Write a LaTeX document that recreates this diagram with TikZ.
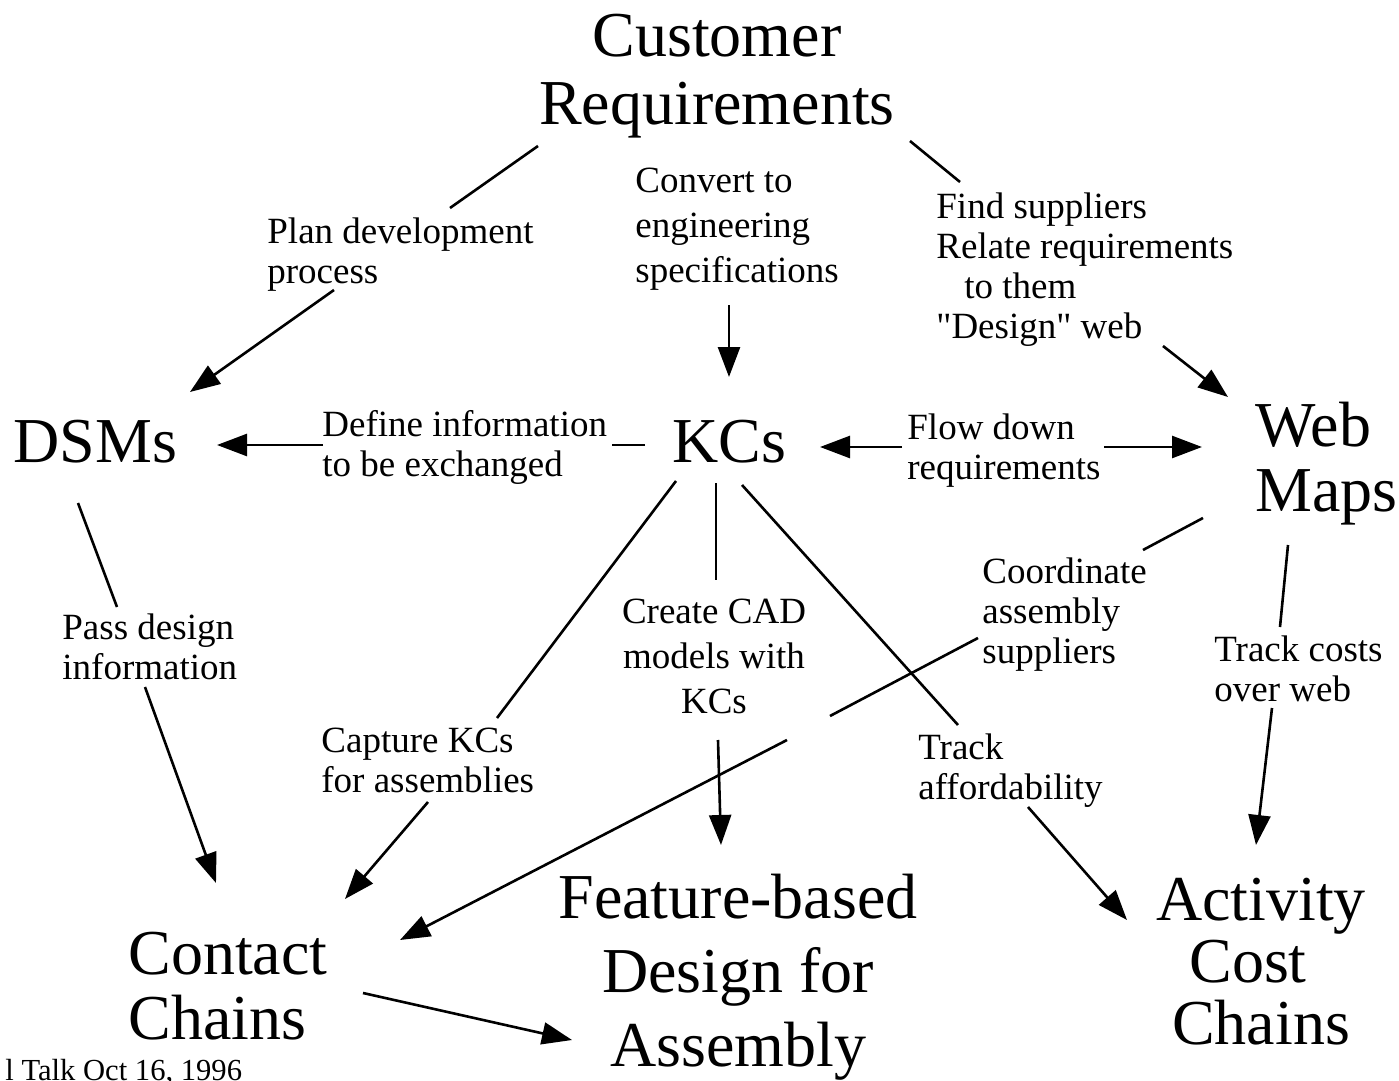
\documentclass[tikz,border=0pt]{standalone}
\usepackage{fontspec}
\setmainfont{Liberation Serif}[Ligatures=TeXOff]
\usetikzlibrary{arrows.meta}

\begin{document}
\begin{tikzpicture}[x=0.5pt,y=-0.5pt,
  big/.style={inner sep=0pt,align=left,font=\fontsize{32}{32.5}\selectfont},
  lbl/.style={inner sep=0pt,align=left,font=\fontsize{18.5}{20}\selectfont},
  conn/.style={line width=1.3pt},
  arr/.style={line width=1.3pt,-{Triangle[length=15pt,width=11pt]}}]
\useasboundingbox (0,0) rectangle (1399,1081);
% the big items
\node[big,align=center,anchor=north,font=\fontsize{32}{34}\selectfont] (cust) at (717,14) {Customer\\Requirements};
\node[big,anchor=north west] (dsms) at (13,420) {DSMs};
\node[big,anchor=north west] (kcs) at (672,420) {KCs};
\node[big,anchor=north west] (web) at (1255,402) {Web\\Maps};
\node[big,anchor=north west] (contact) at (128,932) {Contact\\Chains};
\node[big,align=center,anchor=north,font=\fontsize{32}{37}\selectfont] (feature) at (738,874) {Feature-based\\Design for\\Assembly};
\node[big,align=center,anchor=north,font=\fontsize{32}{31}\selectfont] (activity) at (1261,878) {Activity\\Cost\hspace{13pt}\mbox{}\\Chains};
% the labels
\node[lbl,anchor=north west] (plan) at (267,217) {Plan development\\process};
\node[lbl,anchor=north west,font=\fontsize{18.5}{22.5}\selectfont] (convert) at (635,168) {Convert to\\engineering\\specifications};
\node[lbl,anchor=north west] (find) at (936,192) {Find suppliers\\Relate requirements\\\hspace*{14pt}to them\\"Design" web};
\node[lbl,anchor=north west] (define) at (322,410) {Define information\\to be exchanged};
\node[lbl,anchor=north west] (flow) at (907,413) {Flow down\\requirements};
\node[lbl,anchor=north west] (pass) at (62,613) {Pass design\\information};
\node[lbl,align=center,anchor=north,font=\fontsize{18.5}{22.5}\selectfont] (create) at (714,599) {Create CAD\\models with\\KCs};
\node[lbl,anchor=north west] (coord) at (982,557) {Coordinate\\assembly\\suppliers};
\node[lbl,anchor=north west] (trackcost) at (1214,635) {Track costs\\over web};
\node[lbl,anchor=north west] (capture) at (321,728) {Capture KCs\\for assemblies};
\node[lbl,anchor=north west] (track) at (918,733) {Track\\affordability};
\node[anchor=base west,inner sep=0pt,font=\fontsize{15.3}{16}\selectfont] (talk) at (5,1080) {l Talk Oct 16, 1996};
% connector ends
\coordinate (cust-plan) at (538,146);  \coordinate (plan-in) at (450,208);
\coordinate (plan-out) at (334,290);   \coordinate (dsms-plan) at (190,392);
\coordinate (convert-out) at (729,305); \coordinate (kcs-convert) at (729,377);
\coordinate (cust-find) at (910,141);  \coordinate (find-in) at (960,182);
\coordinate (find-out) at (1163,346);  \coordinate (web-find) at (1228,397);
\coordinate (kcs-define) at (645,445); \coordinate (define-in) at (612,445);
\coordinate (define-out) at (323,445); \coordinate (dsms-define) at (217,445);
\coordinate (kcs-flow) at (820,447);   \coordinate (flow-l) at (902,447);
\coordinate (flow-r) at (1104,447);    \coordinate (web-flow) at (1202,447);
\coordinate (dsms-pass) at (78,503);   \coordinate (pass-in) at (117,607);
\coordinate (pass-out) at (145,687);   \coordinate (contact-pass) at (216,883);
\coordinate (kcs-capture) at (676,481); \coordinate (capture-in) at (497,718);
\coordinate (capture-out) at (428,802); \coordinate (contact-capture) at (345,899);
\coordinate (kcs-create) at (716,483); \coordinate (create-in) at (716,580);
\coordinate (create-out) at (718,740); \coordinate (feature-create) at (721,845);
\coordinate (kcs-track) at (742,485);  \coordinate (track-in) at (958,725);
\coordinate (track-out) at (1028,807); \coordinate (activity-track) at (1127,920);
\coordinate (web-coord) at (1203,518); \coordinate (coord-in) at (1143,550);
\coordinate (coord-out) at (978,638);  \coordinate (create-x1) at (830,716);
\coordinate (create-x2) at (787,740);  \coordinate (contact-coord) at (400,940);
\coordinate (web-cost) at (1288,545);  \coordinate (trackcost-in) at (1280,627);
\coordinate (trackcost-out) at (1272,708); \coordinate (activity-cost) at (1256,845);
\coordinate (contact-feature) at (363,993); \coordinate (feature-contact) at (572,1040);
% connectors
\draw[conn] (cust-plan) -- (plan-in);
\draw[arr] (plan-out) -- (dsms-plan);
\draw[arr] (convert-out) -- (kcs-convert);
\draw[conn] (cust-find) -- (find-in);
\draw[arr] (find-out) -- (web-find);
\draw[conn] (kcs-define) -- (define-in);
\draw[arr] (define-out) -- (dsms-define);
\draw[arr] (flow-l) -- (kcs-flow);
\draw[arr] (flow-r) -- (web-flow);
\draw[conn] (dsms-pass) -- (pass-in);
\draw[arr] (pass-out) -- (contact-pass);
\draw[conn] (kcs-capture) -- (capture-in);
\draw[arr] (capture-out) -- (contact-capture);
\draw[conn] (kcs-create) -- (create-in);
\draw[arr] (create-out) -- (feature-create);
\draw[conn] (kcs-track) -- (track-in);
\draw[arr] (track-out) -- (activity-track);
\draw[conn] (web-coord) -- (coord-in);
\draw[conn] (coord-out) -- (create-x1);
\draw[arr] (create-x2) -- (contact-coord);
\draw[conn] (web-cost) -- (trackcost-in);
\draw[arr] (trackcost-out) -- (activity-cost);
\draw[arr] (contact-feature) -- (feature-contact);
\end{tikzpicture}
\end{document}
